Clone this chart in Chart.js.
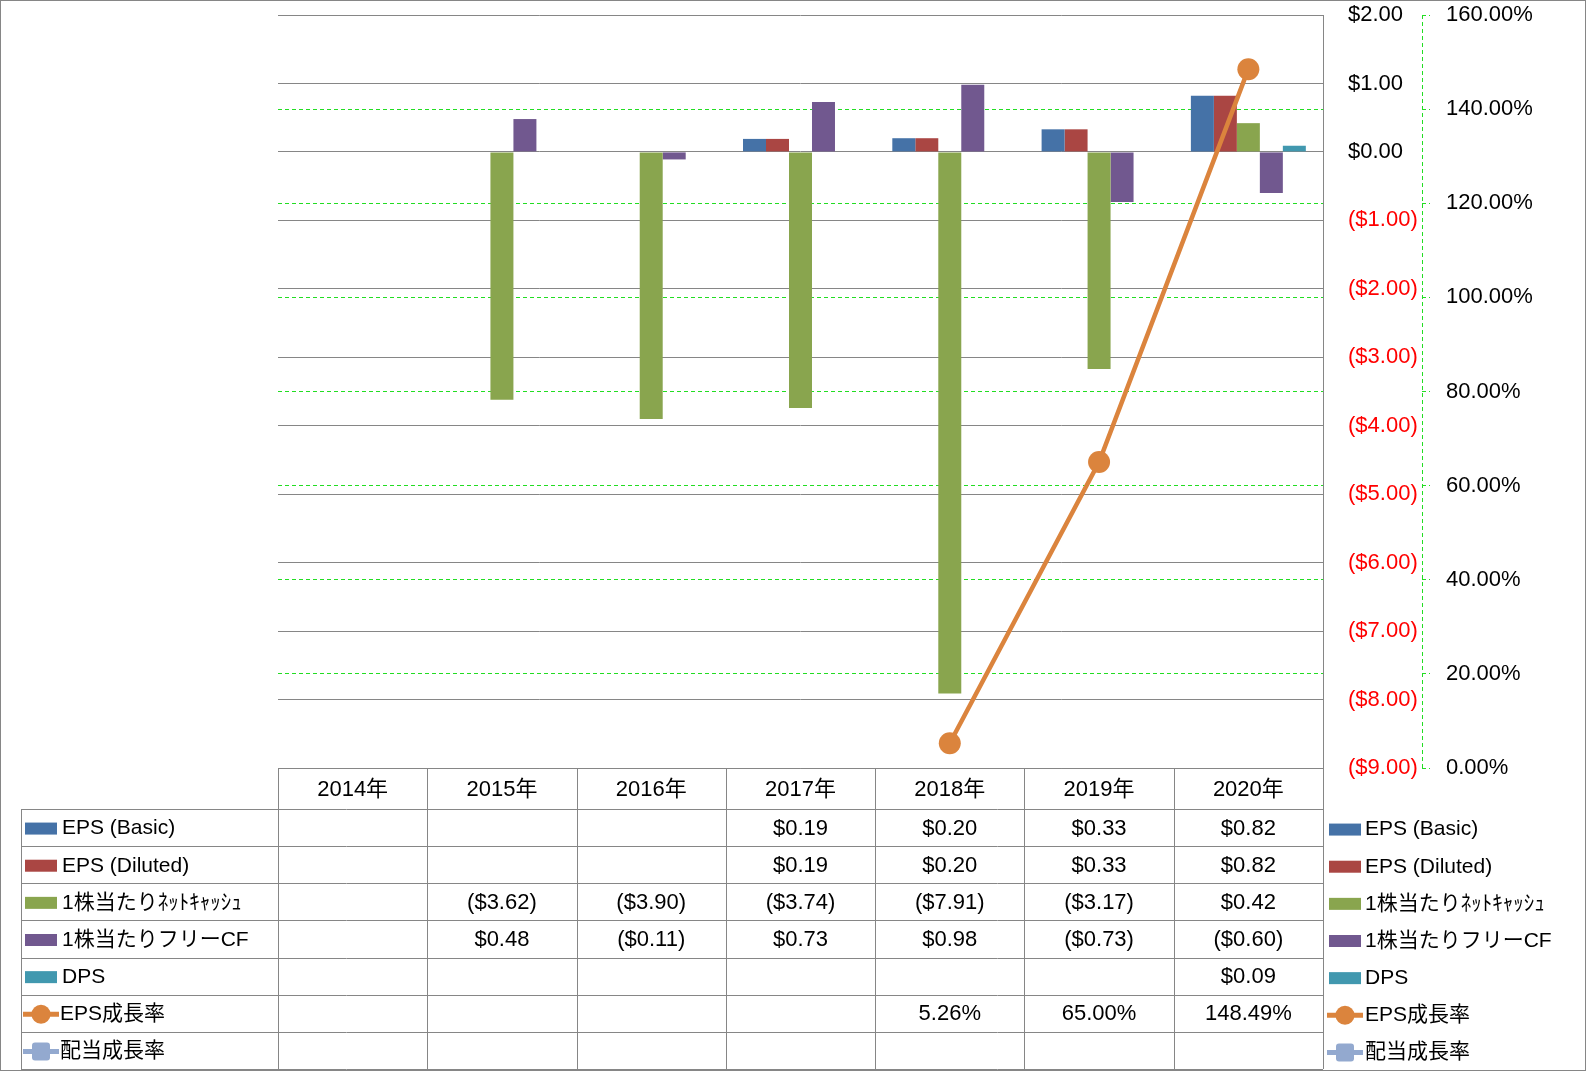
<!DOCTYPE html>
<html>
<head>
<meta charset="utf-8">
<script src="https://cdn.jsdelivr.net/npm/chart.js@4.4.1/dist/chart.umd.min.js"></script>
<style>
  html, body { margin: 0; padding: 0; background: #fff; }
  canvas { display: block; }
</style>
</head>
<body>
<canvas id="chart" width="1586" height="1071"></canvas>
<script>
// data
const years = ['2014年', '2015年', '2016年', '2017年', '2018年', '2019年', '2020年'];
const epsBasic = [null, null, null, 0.19, 0.20, 0.33, 0.82];
const epsDiluted = [null, null, null, 0.19, 0.20, 0.33, 0.82];
const netCashPerShare = [null, -3.62, -3.90, -3.74, -7.91, -3.17, 0.42];
const freeCfPerShare = [null, 0.48, -0.11, 0.73, 0.98, -0.73, -0.60];
const dps = [null, null, null, null, null, null, 0.09];
const epsGrowth = [null, null, null, null, 5.26, 65.00, 148.49];
const dividendGrowth = [null, null, null, null, null, null, null];

const dollarMin = -9, dollarMax = 2, dollarStep = 1;
const percentMin = 0, percentMax = 160, percentStep = 20;

const FONT = "'Liberation Sans', 'Noto Sans CJK JP', sans-serif";
const GRID_GRAY = '#868686';
const GREEN = '#22dd22';

function money(v) {
    return v < 0 ? '($' + Math.abs(v).toFixed(2) + ')' : '$' + v.toFixed(2);
}
function pct(v) {
    return v.toFixed(2) + '%';
}

// data table + legends + outer frame
const tablePlugin = {
    id: 'dataTable',
    afterDraw(chart) {
        const ctx = chart.ctx;
        const x = chart.scales.x;
        const area = chart.chartArea;
        const datasets = chart.data.datasets;
        const colW = x.width / years.length;
        const headTop = Math.round(area.bottom);
        const headBottom = headTop + 41;
        const tableBottom = 1069;
        const rowH = (tableBottom - headBottom) / datasets.length;
        const legendLeft = 21;

        ctx.save();
        ctx.strokeStyle = GRID_GRAY;
        ctx.lineWidth = 1;
        ctx.beginPath();
        // header top
        ctx.moveTo(area.left, headTop + 0.5);
        ctx.lineTo(area.right, headTop + 0.5);
        // row lines
        for (let r = 0; r <= datasets.length; r++) {
            const y = Math.round(headBottom + r * rowH) + 0.5;
            ctx.moveTo(legendLeft, y);
            ctx.lineTo(area.right, y);
        }
        // column lines
        for (let i = 0; i <= years.length; i++) {
            const cx = Math.round(x.getPixelForValue(i) - colW / 2) + 0.5;
            ctx.moveTo(cx, headTop);
            ctx.lineTo(cx, tableBottom);
        }
        ctx.moveTo(legendLeft + 0.5, headBottom);
        ctx.lineTo(legendLeft + 0.5, tableBottom);
        ctx.stroke();

        // header
        ctx.fillStyle = '#000';
        ctx.font = '22px ' + FONT;
        ctx.textAlign = 'center';
        ctx.textBaseline = 'middle';
        years.forEach((yr, i) => {
            ctx.fillText(yr, x.getPixelForValue(i), (headTop + headBottom) / 2 + 1);
        });

        // rows
        datasets.forEach((ds, r) => {
            const cy = headBottom + (r + 0.5) * rowH + 1;
            const fmt = ds.yAxisID === 'y1' ? pct : money;
            ctx.fillStyle = '#000';
            ctx.textAlign = 'center';
            ds.data.forEach((v, i) => {
                if (v === null) return;
                ctx.fillText(fmt(v), x.getPixelForValue(i), cy);
            });
            drawKey(ctx, ds, 41, cy);
            drawKey(ctx, ds, 1345, cy + 1);
            ctx.fillStyle = '#000';
            ctx.textAlign = 'left';
            ctx.font = '21px ' + FONT;
            ctx.fillText(ds.label, ds.type === 'line' ? 60 : 62, cy);
            ctx.fillText(ds.label, 1365, cy + 1);
            ctx.font = '22px ' + FONT;
        });

        // dashed secondary axis line
        const y1 = chart.scales.y1;
        ctx.strokeStyle = GREEN;
        ctx.setLineDash([4, 3]);
        ctx.beginPath();
        ctx.moveTo(Math.round(y1.left) + 0.5, area.top);
        ctx.lineTo(Math.round(y1.left) + 0.5, area.bottom);
        ctx.stroke();
        ctx.setLineDash([]);

        // chart frame
        ctx.strokeStyle = GRID_GRAY;
        ctx.strokeRect(0.5, 0.5, chart.width - 1, chart.height - 1);
        ctx.restore();
    }
};

function drawKey(ctx, ds, cx, cy) {
    ctx.save();
    if (ds.type === 'line') {
        ctx.strokeStyle = ds.borderColor;
        ctx.lineWidth = 5;
        ctx.beginPath();
        ctx.moveTo(cx - 18, cy);
        ctx.lineTo(cx + 18, cy);
        ctx.stroke();
        ctx.fillStyle = ds.pointBackgroundColor;
        ctx.beginPath();
        if (ds.pointStyle === 'rectRounded') {
            ctx.roundRect(cx - 9, cy - 9, 18, 18, 3);
        } else {
            ctx.arc(cx, cy, 9.5, 0, Math.PI * 2);
        }
        ctx.fill();
    } else {
        ctx.fillStyle = ds.backgroundColor;
        ctx.fillRect(cx - 16, cy - 6, 32, 12);
    }
    ctx.restore();
}

function barSet(label, data, color) {
    return { type: 'bar', label: label, data: data, backgroundColor: color, yAxisID: 'y', order: 2 };
}

// keep the label padding from pushing the plot area down
function fixWidth(w) {
    return s => {
        s.width = w;
        s.paddingTop = 0;
        s.paddingBottom = 0;
    };
}

new Chart(document.getElementById('chart'), {
    data: {
        labels: years,
        datasets: [
            barSet('EPS (Basic)', epsBasic, '#4572A7'),
            barSet('EPS (Diluted)', epsDiluted, '#AA4643'),
            barSet('1株当たりﾈｯﾄｷｬｯｼｭ', netCashPerShare, '#89A54E'),
            barSet('1株当たりフリーCF', freeCfPerShare, '#71588F'),
            barSet('DPS', dps, '#4198AF'),
            {
                type: 'line', label: 'EPS成長率', data: epsGrowth, yAxisID: 'y1', order: 0,
                borderColor: '#DB843D', borderWidth: 4.5, pointRadius: 11,
                pointBackgroundColor: '#DB843D', pointBorderColor: '#DB843D', pointBorderWidth: 0
            },
            {
                type: 'line', label: '配当成長率', data: dividendGrowth, yAxisID: 'y1', order: 1,
                borderColor: '#93A9CF', borderWidth: 4.5, pointStyle: 'rectRounded', pointRadius: 9,
                pointBackgroundColor: '#93A9CF', pointBorderColor: '#93A9CF'
            }
        ]
    },
    options: {
        responsive: false,
        animation: false,
        layout: { padding: { left: 278, top: 15, bottom: 303, right: 14 } },
        datasets: { bar: { categoryPercentage: 0.77, barPercentage: 1 } },
        plugins: { legend: { display: false }, tooltip: { enabled: false } },
        scales: {
            x: { display: false },
            y: {
                position: 'right', weight: 0,
                min: dollarMin, max: dollarMax,
                afterFit: fixWidth(99),
                grid: { color: GRID_GRAY, drawTicks: false },
                border: { color: GRID_GRAY },
                ticks: {
                    stepSize: dollarStep, padding: 25,
                    font: { family: FONT, size: 22 },
                    color: c => c.tick.value < 0 ? '#ff0000' : '#000000',
                    callback: v => money(v)
                }
            },
            y1: {
                position: 'right', weight: 1,
                min: percentMin, max: percentMax,
                afterFit: fixWidth(150),
                grid: {
                    color: c => (c.tick && (c.tick.value === percentMin || c.tick.value === percentMax)) ? 'rgba(0,0,0,0)' : GREEN,
                    tickColor: GREEN, tickLength: 8, tickBorderDash: [4, 3]
                },
                border: { display: false, dash: [4, 3] },
                ticks: {
                    stepSize: percentStep, padding: 16,
                    font: { family: FONT, size: 22 },
                    color: '#000000',
                    callback: v => pct(v)
                }
            }
        }
    },
    plugins: [tablePlugin]
});
</script>
</body>
</html>
